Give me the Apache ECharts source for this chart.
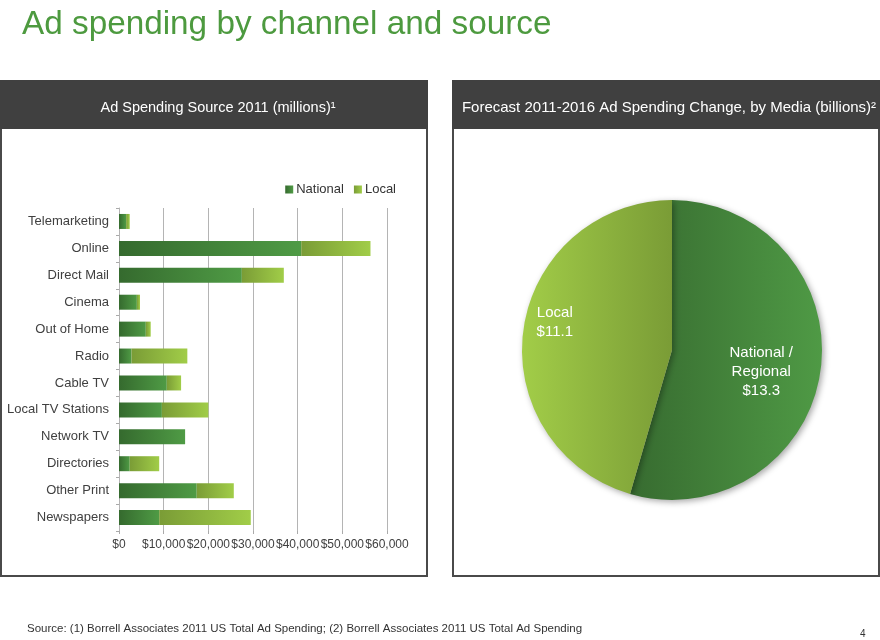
<!DOCTYPE html>
<html>
<head>
<meta charset="utf-8">
<script src="https://cdn.jsdelivr.net/npm/echarts@6/dist/echarts.min.js"></script>
<style>
html,body{margin:0;padding:0;background:#fff;}
#c{width:880px;height:640px;}
</style>
</head>
<body>
<div id="c"></div>
<script>
// Data (millions of US$)
const categories = ['Telemarketing','Online','Direct Mail','Cinema','Out of Home','Radio','Cable TV','Local TV Stations','Network TV','Directories','Other Print','Newspapers'];
const nationalValues = [1600, 40800, 27500, 4000, 6000, 2800, 10700, 9600, 14800, 2400, 17400, 9000];
const localValues = [800, 15500, 9400, 700, 1100, 12500, 3200, 10400, 0, 6600, 8300, 20500];
const xTicks = [0, 10000, 20000, 30000, 40000, 50000, 60000];
// Forecast 2011-2016 change (billions)
const pieNames = ['National / Regional', 'Local'];
const pieLabels = ['National /\nRegional\n$13.3', 'Local\n$11.1'];
const pieValues = [13.3, 11.1];

const FONT = '"Liberation Sans", Arial, Helvetica, sans-serif';
const G = echarts.graphic.LinearGradient;
const natGrad = new G(0,0,1,0,[{offset:0,color:'#356a2e'},{offset:1,color:'#4f9b45'}]);
const locGrad = new G(0,0,1,0,[{offset:0,color:'#7a9c36'},{offset:1,color:'#a1cd48'}]);
const pieNatGrad = new G(0,0,1,0,[{offset:0,color:'#376b30'},{offset:1,color:'#4f9a45'}]);
const pieLocGrad = new G(0,0,1,0,[{offset:0,color:'#a2cd48'},{offset:1,color:'#7a9c36'}]);

const chart = echarts.init(document.getElementById('c'), null, {renderer:'canvas'});

chart.setOption({
  backgroundColor:'#ffffff',
  textStyle:{fontFamily:FONT},
  animation:false,
  title:[
    {text:'Ad spending by channel and source', left:17, top:3,
     textStyle:{fontFamily:FONT, fontSize:33.3, fontWeight:'normal', color:'#4d9a3f'}},
    {text:'Ad Spending Source 2011 (millions)¹', left:213, top:95, textAlign:'center',
     textStyle:{fontFamily:FONT, fontSize:14.5, fontWeight:'normal', color:'#ffffff'}},
    {text:'Forecast 2011-2016 Ad Spending Change, by Media (billions)²', left:664, top:95, textAlign:'center',
     textStyle:{fontFamily:FONT, fontSize:15, fontWeight:'normal', color:'#ffffff'}},
    {text:'Source: (1) Borrell Associates 2011 US Total Ad Spending; (2) Borrell Associates 2011 US Total Ad Spending', left:22, top:618,
     textStyle:{fontFamily:FONT, fontSize:11.5, fontWeight:'normal', color:'#333333'}},
    {text:'4', left:855, top:624,
     textStyle:{fontFamily:FONT, fontSize:10, fontWeight:'normal', color:'#333333'}}
  ],
  graphic:[
    {type:'rect', shape:{x:1, y:81, width:426, height:495}, style:{fill:'#ffffff', stroke:'#4a4a4a', lineWidth:2}, z:-10},
    {type:'rect', shape:{x:0, y:80, width:428, height:49}, style:{fill:'#404040'}, z:-9},
    {type:'rect', shape:{x:453, y:81, width:426, height:495}, style:{fill:'#ffffff', stroke:'#4a4a4a', lineWidth:2}, z:-10},
    {type:'rect', shape:{x:452, y:80, width:428, height:49}, style:{fill:'#404040'}, z:-9}
  ],
  legend:{
    data:['National','Local'], right:479, top:178, itemWidth:8, itemHeight:8, itemGap:10,
    icon:'rect',
    textStyle:{fontFamily:FONT, fontSize:13, color:'#333333', padding:[0,0,0,-2]}
  },
  grid:{left:119, top:208, width:268, height:323, containLabel:false},
  xAxis:{
    type:'value', min:0, max:60000, interval:10000,
    axisLine:{show:false},
    axisTick:{show:true, length:3, lineStyle:{color:'#aaaaaa'}},
    splitLine:{show:true, lineStyle:{color:'#b4b4b4', width:1}},
    axisLabel:{fontFamily:FONT, fontSize:12, color:'#404040', margin:8,
      showMinLabel:true, showMaxLabel:true, hideOverlap:false,
      formatter:function(v){return '$' + v.toLocaleString('en-US');}}
  },
  yAxis:{
    type:'category', data:categories, inverse:true,
    axisLine:{show:true, lineStyle:{color:'#b4b4b4'}},
    axisTick:{show:true, length:3, lineStyle:{color:'#aaaaaa'}},
    axisLabel:{fontFamily:FONT, fontSize:13, color:'#404040', margin:10}
  },
  series:[
    {name:'National', type:'bar', stack:'s', barWidth:15, data:nationalValues,
     itemStyle:{color:natGrad}},
    {name:'Local', type:'bar', stack:'s', barWidth:15, data:localValues,
     itemStyle:{color:locGrad}},
    {name:'Forecast', type:'pie', center:[672,350], radius:150, startAngle:90, clockwise:true,
     legendHoverLink:false,
     data:[
       {name:pieNames[0], value:pieValues[0], itemStyle:{color:pieNatGrad},
        label:{formatter:pieLabels[0]}},
       {name:pieNames[1], value:pieValues[1], itemStyle:{color:pieLocGrad},
        label:{formatter:pieLabels[1]}}
     ],
     itemStyle:{shadowBlur:6, shadowColor:'rgba(0,0,0,0.35)', shadowOffsetX:2, shadowOffsetY:2},
     label:{show:true, position:'inside', color:'#ffffff', fontFamily:FONT, fontSize:15, lineHeight:19, align:'center'},
     labelLine:{show:false},
     labelLayout:function(p){
       return p.dataIndex === 0 ? {dx:12, dy:11} : {dx:-40, dy:-17};
     }
    }
  ]
});
</script>
</body>
</html>
